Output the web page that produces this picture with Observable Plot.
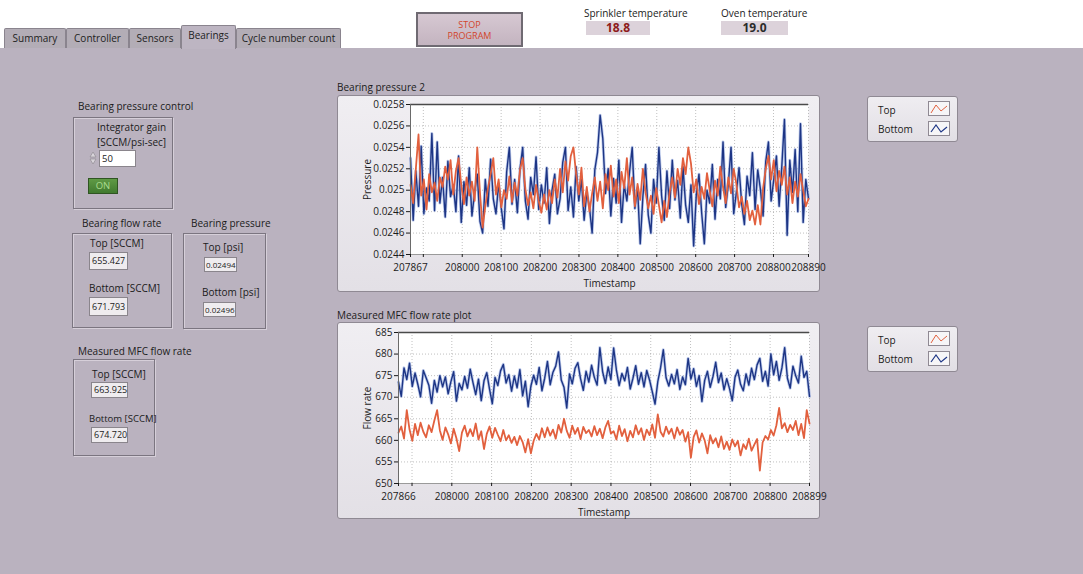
<!DOCTYPE html>
<html><head><meta charset="utf-8">
<script src="https://cdn.jsdelivr.net/npm/d3@7"></script>
<script src="https://cdn.jsdelivr.net/npm/@observablehq/plot@0.6"></script>
<style>
html,body{margin:0;padding:0;}
body{width:1083px;height:574px;position:relative;overflow:hidden;background:#bab2bf;font-family:"Open Sans",sans-serif;font-size:10px;color:#1b1b1b;}
.a{position:absolute;white-space:nowrap;}
.tab{position:absolute;top:28px;height:20px;line-height:19px;text-align:center;background:#b3adb6;border:1px solid #8a848e;border-bottom:none;border-radius:2px 2px 0 0;box-sizing:border-box;font-size:10px;color:#222;}
.tab.sel{top:25px;height:24px;background:#bdb5c2;line-height:19px;z-index:2;}
.grp{position:absolute;border:1px solid #7b7580;box-shadow:inset 1px 1px 0 #d6cfd9,1px 1px 0 #d6cfd9;box-sizing:border-box;}
.fld{position:absolute;background:#efecef;border:1px solid #8a858c;box-sizing:border-box;font-size:9px;line-height:14px;padding-left:2px;color:#222;white-space:nowrap;}
.panel{position:absolute;left:337px;width:483px;height:197px;border:1px solid #8f8993;border-radius:3px;box-sizing:border-box;background:linear-gradient(#f0eef2,#e3e0e6);}
.legend{position:absolute;left:867px;width:91px;height:46px;border:1px solid #8f8993;border-radius:3px;box-sizing:border-box;background:linear-gradient(#efedf1,#e2dfe5);}
.legend span{position:absolute;left:10px;font-size:10px;}
.ico{position:absolute;left:60px;width:22px;height:15px;border:1px solid #8f8993;box-sizing:border-box;background:#f6f5f7;}
.plotwrap{position:absolute;left:337px;width:483px;height:197px;}
.plotwrap svg{overflow:visible;}
</style></head>
<body>
<script>
// ---------- data ----------
const tabNames = ["Summary", "Controller", "Sensors", "Bearings", "Cycle number count"];
const sprinklerTemp = "18.8";
const ovenTemp = "19.0";
const integratorGain = "50";
const flowTop = "655.427", flowBottom = "671.793";
const pressTopVal = "0.02494", pressBottomVal = "0.02496";
const mfcTop = "663.925", mfcBottom = "674.720";
const seriesNames = ["Top", "Bottom"];

// Bearing pressure 2 chart
const pressureStart = 207867, pressureEnd = 208890;
const pressureXTicks = [207867, 207900, 208000, 208100, 208200, 208300, 208400, 208500, 208600, 208700, 208800, 208890];
const pressureXLabels = ["207867", "", "208000", "208100", "208200", "208300", "208400", "208500", "208600", "208700", "208800", "208890"];
const pressureYTicks = [0.0244, 0.0246, 0.0248, 0.025, 0.0252, 0.0254, 0.0256, 0.0258];
const pressureYLabels = ["0.0244", "0.0246", "0.0248", "0.025", "0.0252", "0.0254", "0.0256", "0.0258"];
const pressureTop = [
0.02505,0.02488,0.02520,0.02552,0.02495,0.02510,0.02482,0.02515,0.02498,0.02507,
0.02490,0.02512,0.02503,0.02522,0.02510,0.02528,0.02496,0.02518,0.02530,0.02505,
0.02487,0.02512,0.02495,0.02508,0.02490,0.02540,0.02498,0.02465,0.02485,0.02502,
0.02515,0.02530,0.02496,0.02510,0.02484,0.02500,0.02492,0.02513,0.02489,0.02507,
0.02495,0.02519,0.02530,0.02501,0.02486,0.02498,0.02483,0.02505,0.02490,0.02479,
0.02496,0.02482,0.02500,0.02488,0.02510,0.02493,0.02520,0.02498,0.02527,0.02509,
0.02532,0.02540,0.02515,0.02496,0.02521,0.02485,0.02503,0.02480,0.02497,0.02512,
0.02490,0.02508,0.02483,0.02515,0.02500,0.02523,0.02494,0.02510,0.02488,0.02517,
0.02502,0.02530,0.02496,0.02512,0.02485,0.02506,0.02491,0.02520,0.02498,0.02483,
0.02495,0.02478,0.02502,0.02486,0.02470,0.02490,0.02475,0.02498,0.02512,0.02493,
0.02520,0.02505,0.02530,0.02515,0.02540,0.02525,0.02498,0.02510,0.02487,0.02503,
0.02492,0.02516,0.02500,0.02485,0.02509,0.02495,0.02522,0.02503,0.02488,0.02512,
0.02497,0.02520,0.02506,0.02484,0.02494,0.02478,0.02490,0.02472,0.02481,0.02468,
0.02486,0.02468,0.02502,0.02520,0.02532,0.02510,0.02528,0.02499,0.02518,0.02505,
0.02522,0.02496,0.02512,0.02488,0.02508,0.02494,0.02515,0.02500,0.02485,0.02492];
const pressureBottom = [
0.02530,0.02472,0.02518,0.02485,0.02541,0.02478,0.02502,0.02490,0.02553,0.02481,
0.02545,0.02488,0.02512,0.02475,0.02527,0.02494,0.02505,0.02480,0.02532,0.02470,
0.02508,0.02486,0.02521,0.02476,0.02498,0.02515,0.02471,0.02460,0.02510,0.02485,
0.02529,0.02492,0.02478,0.02506,0.02483,0.02464,0.02517,0.02540,0.02487,0.02510,
0.02479,0.02520,0.02540,0.02490,0.02473,0.02512,0.02496,0.02531,0.02482,0.02505,
0.02488,0.02521,0.02469,0.02500,0.02515,0.02478,0.02492,0.02526,0.02540,0.02481,
0.02503,0.02475,0.02522,0.02490,0.02510,0.02472,0.02498,0.02484,0.02460,0.02519,
0.02535,0.02570,0.02548,0.02497,0.02520,0.02476,0.02511,0.02488,0.02528,0.02470,
0.02505,0.02490,0.02517,0.02540,0.02483,0.02502,0.02450,0.02494,0.02524,0.02477,
0.02460,0.02510,0.02488,0.02540,0.02495,0.02472,0.02518,0.02483,0.02528,0.02491,
0.02509,0.02474,0.02522,0.02486,0.02470,0.02505,0.02448,0.02496,0.02515,0.02479,
0.02450,0.02500,0.02488,0.02524,0.02473,0.02510,0.02492,0.02545,0.02484,0.02506,
0.02540,0.02478,0.02498,0.02521,0.02487,0.02468,0.02513,0.02495,0.02535,0.02482,
0.02519,0.02501,0.02476,0.02527,0.02545,0.02490,0.02510,0.02532,0.02485,0.02522,
0.02566,0.02458,0.02528,0.02498,0.02538,0.02480,0.02562,0.02470,0.02510,0.02492];

// Measured MFC flow rate plot
const flowStart = 207866, flowEnd = 208899;
const flowXTicks = [207866, 207900, 208000, 208100, 208200, 208300, 208400, 208500, 208600, 208700, 208800, 208899];
const flowXLabels = ["207866", "", "208000", "208100", "208200", "208300", "208400", "208500", "208600", "208700", "208800", "208899"];
const flowYTicks = [650, 655, 660, 665, 670, 675, 680, 685];
const flowTopRate = [
661.8,663.2,660.4,667.0,662.5,659.9,663.8,661.2,664.1,662.0,
660.7,663.5,661.9,664.6,667.0,662.3,660.1,663.0,661.4,659.3,
662.7,660.5,657.5,661.8,663.4,660.9,662.6,661.0,663.9,660.2,
662.1,658.0,661.5,663.2,660.6,662.9,661.3,659.8,662.4,660.0,
661.2,659.4,660.8,658.9,661.0,659.6,657.2,660.3,657.0,659.9,
661.5,660.2,662.8,660.7,663.0,661.1,662.5,660.4,663.6,661.8,
665.0,662.2,660.6,663.4,661.5,662.9,660.3,663.1,661.7,662.4,
660.9,663.3,661.2,662.7,660.5,663.0,664.5,661.6,662.1,660.2,
663.4,661.0,662.6,659.8,662.2,660.7,663.5,661.4,662.8,660.1,
662.5,661.2,663.7,660.6,666.0,662.0,660.9,663.2,661.5,662.7,
660.4,663.0,661.3,662.4,659.7,661.9,656.0,660.8,662.3,659.5,
661.6,660.0,657.0,661.2,659.3,660.5,658.4,660.9,658.0,659.7,
657.8,660.2,658.6,659.9,656.5,659.1,658.0,660.4,657.6,659.0,
660.3,653.0,659.5,661.0,660.2,662.4,661.1,663.5,667.5,662.8,
664.0,661.9,663.6,662.4,664.5,661.2,663.8,660.5,667.0,663.9];
const flowBottomRate = [
673.5,670.2,676.8,674.1,677.9,672.5,675.6,673.0,670.1,676.2,
674.5,672.8,668.6,673.9,671.2,675.0,672.4,674.7,670.8,673.6,
675.9,669.1,673.2,671.7,674.8,672.1,676.5,673.4,670.6,674.2,
669.2,673.8,675.7,671.9,668.5,674.6,672.7,676.1,677.6,673.3,
675.2,671.4,674.9,672.2,676.4,670.3,673.7,667.8,672.6,675.1,
673.0,676.9,671.5,674.4,678.3,672.9,675.8,677.2,680.5,674.0,
672.3,667.5,675.4,673.1,676.7,678.0,674.3,671.6,676.0,673.5,
677.4,674.6,672.8,681.5,675.9,673.2,677.0,674.1,681.4,676.3,
672.7,675.5,673.8,676.9,671.9,674.4,677.3,673.0,675.7,672.4,
676.2,674.0,671.3,668.4,673.6,676.8,681.0,674.5,672.6,675.3,
673.1,676.4,671.8,674.7,672.9,679.0,674.2,676.6,672.5,675.0,
669.0,673.9,676.0,672.3,674.8,678.1,673.4,675.6,671.7,674.3,
672.0,669.2,674.6,676.3,673.0,671.5,675.4,672.8,676.7,674.1,
677.5,679.0,673.7,676.0,672.6,680.0,675.2,678.3,673.9,676.8,
681.5,674.4,672.1,677.2,675.0,673.3,679.5,674.6,676.0,670.2];

const colorTop = "#e2603e";
const colorBottom = "#1d3585";

// ---------- helpers ----------
function el(tag, cls, style, text, parent) {
  const e = document.createElement(tag);
  if (cls) e.className = cls;
  if (style) e.setAttribute("style", style);
  if (text != null) e.textContent = text;
  (parent || document.body).appendChild(e);
  return e;
}
function toRows(start, end, values, series) {
  const n = values.length;
  return values.map((v, i) => ({t: start + i * (end - start) / (n - 1), v, series}));
}

// ---------- top bar ----------
el("div", "a", "left:0;top:0;width:1083px;height:48px;background:#fff;");
const tabPos = [[4, 62], [66, 63], [129, 52], [181, 55], [236, 105]];
tabNames.forEach((name, i) => {
  el("div", "tab" + (i === 3 ? " sel" : ""), `left:${tabPos[i][0]}px;width:${tabPos[i][1]}px;`, name);
});
const stop = el("div", "a", "left:416px;top:12px;width:107px;height:35px;box-sizing:border-box;border:2px solid #6f6a72;background:linear-gradient(#d6c8d2,#c4b4c0);color:#d2452b;font-size:9px;line-height:11px;text-align:center;padding-top:5px;");
stop.innerHTML = "STOP<br>PROGRAM";
el("div", "a", "left:584px;top:6px;font-size:10px;", "Sprinkler temperature");
el("div", "a", "left:586px;top:21px;width:64px;height:14px;background:#dcd2da;color:#8e1b1b;font-weight:bold;font-size:12px;line-height:14px;text-align:center;", sprinklerTemp);
el("div", "a", "left:721px;top:6px;font-size:10px;", "Oven temperature");
el("div", "a", "left:721px;top:21px;width:67px;height:14px;background:#dcd2da;color:#2b2b2b;font-weight:bold;font-size:12px;line-height:14px;text-align:center;", ovenTemp);

// ---------- left widgets ----------
el("div", "a", "left:78px;top:99px;", "Bearing pressure control");
el("div", "grp", "left:73px;top:117px;width:100px;height:92px;");
el("div", "a", "left:97px;top:120px;", "Integrator gain");
el("div", "a", "left:97px;top:135px;", "[SCCM/psi-sec]");
const spin = el("div", "a", "left:89px;top:150px;width:8px;height:16px;");
spin.innerHTML = '<svg width="8" height="16"><path d="M1,7 L4,2 L7,7Z M1,9 L4,14 L7,9Z" fill="#d8d4da" stroke="#8a858c" stroke-width="0.6"/></svg>';
el("div", "fld", "left:99px;top:150px;width:37px;height:17px;background:#fff;line-height:15px;font-size:9.5px;", integratorGain);
el("div", "a", "left:88px;top:178px;width:30px;height:16px;box-sizing:border-box;border:1px solid #2f5522;background:linear-gradient(#5f9a45,#417a2f);color:#a9db8e;font-size:9.5px;line-height:14px;text-align:center;", "ON");

el("div", "a", "left:82px;top:216px;", "Bearing flow rate");
el("div", "grp", "left:72px;top:233px;width:100px;height:95px;");
el("div", "a", "left:90px;top:236px;", "Top [SCCM]");
el("div", "fld", "left:89px;top:252px;width:39px;height:18px;line-height:16px;", flowTop);
el("div", "a", "left:89px;top:281px;", "Bottom [SCCM]");
el("div", "fld", "left:89px;top:297px;width:39px;height:19px;line-height:17px;", flowBottom);

el("div", "a", "left:191px;top:216px;", "Bearing pressure");
el("div", "grp", "left:183px;top:233px;width:83px;height:96px;");
el("div", "a", "left:203px;top:240px;", "Top [psi]");
el("div", "fld", "left:204px;top:257px;width:33px;height:15px;line-height:13px;padding-left:1px;font-size:8px;", pressTopVal);
el("div", "a", "left:202px;top:285px;", "Bottom [psi]");
el("div", "fld", "left:203px;top:302px;width:33px;height:15px;line-height:13px;padding-left:1px;font-size:8px;", pressBottomVal);

el("div", "a", "left:78px;top:344px;", "Measured MFC flow rate");
el("div", "grp", "left:73px;top:359px;width:82px;height:97px;");
el("div", "a", "left:92px;top:367px;", "Top [SCCM]");
el("div", "fld", "left:91px;top:382px;width:37px;height:16px;line-height:14px;", mfcTop);
el("div", "a", "left:89px;top:412px;font-size:9.5px;", "Bottom [SCCM]");
el("div", "fld", "left:91px;top:427px;width:37px;height:16px;line-height:14px;", mfcBottom);

// ---------- chart panels ----------
el("div", "a", "left:337px;top:80px;", "Bearing pressure 2");
el("div", "panel", "top:95px;");
el("div", "a", "left:337px;top:308px;", "Measured MFC flow rate plot");
el("div", "panel", "top:322px;");

function legend(top) {
  const L = el("div", "legend", `top:${top}px;`);
  el("span", null, "top:6px;", seriesNames[0], L);
  el("span", null, "top:25px;", seriesNames[1], L);
  const i1 = el("div", "ico", "top:4px;", null, L);
  i1.innerHTML = `<svg width="20" height="13"><path d="M2,11 L7,3 L12,9 L18,4" fill="none" stroke="${colorTop}" stroke-width="1"/></svg>`;
  const i2 = el("div", "ico", "top:24px;", null, L);
  i2.innerHTML = `<svg width="20" height="13"><path d="M2,10 L7,3 L12,10 L18,5" fill="none" stroke="${colorBottom}" stroke-width="1.2"/></svg>`;
}
legend(96);
legend(326);

function chart(opts) {
  const {rowsTop, rowsBottom, xTicks, xLabels, yTicks, yFormat, yLabel, mL, mR, mT, mB, top, xDomain} = opts;
  const xl = new Map(xTicks.map((d, i) => [d, xLabels[i]]));
  const gridStyle = {stroke: "#8d8d8d", strokeOpacity: 0.55, strokeDasharray: "1,2"};
  const p = Plot.plot({
    width: 483, height: 197,
    marginLeft: mL, marginRight: mR, marginTop: mT, marginBottom: mB,
    style: {background: "transparent", fontFamily: "Open Sans, sans-serif", fontSize: "10px", color: "#1b1b1b", overflow: "visible"},
    x: {domain: xDomain},
    y: {domain: [yTicks[0], yTicks[yTicks.length - 1]]},
    marks: [
      Plot.frame({fill: "white", stroke: null}),
      Plot.gridX(xTicks, gridStyle),
      Plot.gridY(yTicks, gridStyle),
      Plot.line(rowsBottom, {x: "t", y: "v", stroke: "#6f8bd2", strokeWidth: 3, strokeOpacity: 0.45}),
      Plot.line(rowsBottom, {x: "t", y: "v", stroke: colorBottom, strokeWidth: 1.4}),
      Plot.line(rowsTop, {x: "t", y: "v", stroke: colorTop, strokeWidth: 1.8}),
      Plot.ruleY([yTicks[yTicks.length - 1]], {stroke: "#4a4a4a", strokeWidth: 1.5}),
      Plot.ruleY([yTicks[0]], {stroke: "#9a9a9a"}),
      Plot.ruleX([xDomain[0]], {stroke: "#6a6a6a"}),
      Plot.axisY(yTicks, {tickFormat: yFormat, tickSize: 4, tickPadding: 2, label: yLabel, labelAnchor: "center", labelArrow: "none", labelOffset: mL - 26}),
      Plot.axisX(xTicks, {tickFormat: d => xl.get(d), tickSize: 3, tickPadding: 6, label: "Timestamp", labelAnchor: "center", labelArrow: "none", labelOffset: 32})
    ]
  });
  const w = el("div", "plotwrap", `top:${top}px;`);
  w.appendChild(p);
}

const pyl = new Map(pressureYTicks.map((d, i) => [d, pressureYLabels[i]]));
chart({
  rowsTop: toRows(pressureStart, pressureEnd, pressureTop, seriesNames[0]),
  rowsBottom: toRows(pressureStart, pressureEnd, pressureBottom, seriesNames[1]),
  xTicks: pressureXTicks, xLabels: pressureXLabels, xDomain: [pressureStart, pressureEnd],
  yTicks: pressureYTicks, yFormat: d => pyl.get(d), yLabel: "Pressure",
  mL: 73, mR: 12, mT: 9, mB: 38, top: 95
});
chart({
  rowsTop: toRows(flowStart, flowEnd, flowTopRate, seriesNames[0]),
  rowsBottom: toRows(flowStart, flowEnd, flowBottomRate, seriesNames[1]),
  xTicks: flowXTicks, xLabels: flowXLabels, xDomain: [flowStart, flowEnd],
  yTicks: flowYTicks, yFormat: d => String(d), yLabel: "Flow rate",
  mL: 61, mR: 11, mT: 10, mB: 36, top: 322
});
</script>
</body></html>
